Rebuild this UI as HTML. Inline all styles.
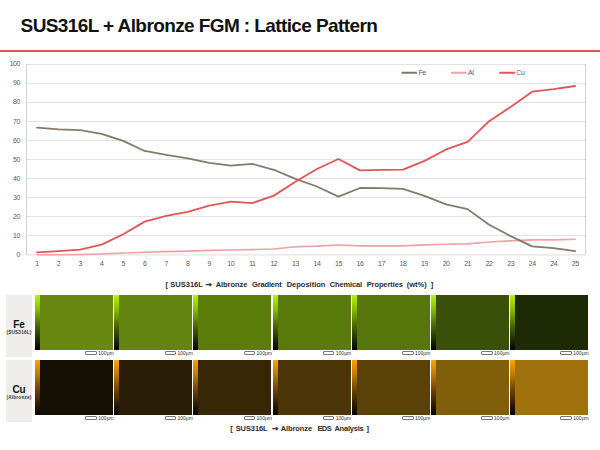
<!DOCTYPE html>
<html><head><meta charset="utf-8">
<style>
html,body{margin:0;padding:0;background:#fff;}
body{width:600px;height:450px;position:relative;overflow:hidden;font-family:"Liberation Sans",sans-serif;}
.title{position:absolute;left:20.6px;top:14.6px;font-size:19px;font-weight:bold;color:#111;white-space:nowrap;letter-spacing:-0.6px;}
.rule{position:absolute;left:0;top:50px;width:600px;height:2px;background:#df5558;}
.chart{position:absolute;left:0;top:0;}
.ax{font-family:"Liberation Sans",sans-serif;font-size:7px;fill:#595959;letter-spacing:-0.45px;}
.cap{position:absolute;font-size:7.5px;font-weight:bold;color:#2a2a2a;white-space:nowrap;width:600px;height:10px;}
.cap span{position:absolute;top:0;}
.arr{font-family:"DejaVu Sans",sans-serif;font-weight:bold;-webkit-text-stroke:0.35px #2a2a2a;}
.lbl{position:absolute;left:6px;width:26.3px;height:61.7px;background:#eeedeb;text-align:center;}
.lbl b{position:absolute;left:0;width:26px;top:25.2px;font-size:10px;color:#111;line-height:10px;letter-spacing:-0.2px;}
.lbl i{position:absolute;left:-2px;width:30px;top:36.3px;font-style:normal;font-weight:bold;font-size:4.6px;color:#333;line-height:4.6px;letter-spacing:0.25px;}
.bar{position:absolute;width:5px;height:55.3px;}
.img{position:absolute;width:73.2px;height:55.3px;}
.sb{position:absolute;font-size:5px;color:#2a2a2a;white-space:nowrap;line-height:5px;width:30px;height:6px;}
.sb .rect{position:absolute;left:0;top:-0.4px;width:9.6px;height:1.8px;border:0.7px solid #777;border-radius:1px;}
.sb .t{position:absolute;left:13px;top:-0.7px;}
</style></head><body>
<div class="title">SUS316L + Albronze FGM : Lattice Pattern</div>
<div class="rule"></div>
<svg class="chart" width="600" height="300" viewBox="0 0 600 300">
<line x1="26" y1="254.9" x2="586" y2="254.9" stroke="#dcdcdc" stroke-width="1"/>
<line x1="26" y1="235.5" x2="586" y2="235.5" stroke="#e3e3e3" stroke-width="1"/>
<line x1="26" y1="216.5" x2="586" y2="216.5" stroke="#e3e3e3" stroke-width="1"/>
<line x1="26" y1="197.5" x2="586" y2="197.5" stroke="#e3e3e3" stroke-width="1"/>
<line x1="26" y1="178.5" x2="586" y2="178.5" stroke="#e3e3e3" stroke-width="1"/>
<line x1="26" y1="159.5" x2="586" y2="159.5" stroke="#e3e3e3" stroke-width="1"/>
<line x1="26" y1="140.5" x2="586" y2="140.5" stroke="#e3e3e3" stroke-width="1"/>
<line x1="26" y1="121.5" x2="586" y2="121.5" stroke="#e3e3e3" stroke-width="1"/>
<line x1="26" y1="102.5" x2="586" y2="102.5" stroke="#e3e3e3" stroke-width="1"/>
<line x1="26" y1="83.5" x2="586" y2="83.5" stroke="#e3e3e3" stroke-width="1"/>
<line x1="26" y1="64.5" x2="586" y2="64.5" stroke="#e3e3e3" stroke-width="1"/>
<line x1="26.5" y1="64.5" x2="26.5" y2="254.5" stroke="#d0d0d0" stroke-width="1"/>
<line x1="585.5" y1="64.5" x2="585.5" y2="254.5" stroke="#d0d0d0" stroke-width="1"/>
<text x="20" y="257.2" text-anchor="end" class="ax">0</text>
<text x="20" y="238.1" text-anchor="end" class="ax">10</text>
<text x="20" y="219.0" text-anchor="end" class="ax">20</text>
<text x="20" y="199.9" text-anchor="end" class="ax">30</text>
<text x="20" y="180.8" text-anchor="end" class="ax">40</text>
<text x="20" y="161.7" text-anchor="end" class="ax">50</text>
<text x="20" y="142.6" text-anchor="end" class="ax">60</text>
<text x="20" y="123.5" text-anchor="end" class="ax">70</text>
<text x="20" y="104.4" text-anchor="end" class="ax">80</text>
<text x="20" y="85.3" text-anchor="end" class="ax">90</text>
<text x="20" y="66.2" text-anchor="end" class="ax">100</text>
<text x="37.06" y="266" text-anchor="middle" class="ax">1</text>
<text x="58.59" y="266" text-anchor="middle" class="ax">2</text>
<text x="80.12" y="266" text-anchor="middle" class="ax">3</text>
<text x="101.64" y="266" text-anchor="middle" class="ax">4</text>
<text x="123.17" y="266" text-anchor="middle" class="ax">5</text>
<text x="144.70" y="266" text-anchor="middle" class="ax">6</text>
<text x="166.23" y="266" text-anchor="middle" class="ax">7</text>
<text x="187.75" y="266" text-anchor="middle" class="ax">8</text>
<text x="209.28" y="266" text-anchor="middle" class="ax">9</text>
<text x="230.81" y="266" text-anchor="middle" class="ax">10</text>
<text x="252.33" y="266" text-anchor="middle" class="ax">11</text>
<text x="273.86" y="266" text-anchor="middle" class="ax">12</text>
<text x="295.39" y="266" text-anchor="middle" class="ax">13</text>
<text x="316.91" y="266" text-anchor="middle" class="ax">14</text>
<text x="338.44" y="266" text-anchor="middle" class="ax">15</text>
<text x="359.97" y="266" text-anchor="middle" class="ax">16</text>
<text x="381.49" y="266" text-anchor="middle" class="ax">17</text>
<text x="403.02" y="266" text-anchor="middle" class="ax">18</text>
<text x="424.55" y="266" text-anchor="middle" class="ax">19</text>
<text x="446.08" y="266" text-anchor="middle" class="ax">20</text>
<text x="467.60" y="266" text-anchor="middle" class="ax">21</text>
<text x="489.13" y="266" text-anchor="middle" class="ax">22</text>
<text x="510.66" y="266" text-anchor="middle" class="ax">23</text>
<text x="532.18" y="266" text-anchor="middle" class="ax">24</text>
<text x="553.71" y="266" text-anchor="middle" class="ax">24</text>
<text x="575.24" y="266" text-anchor="middle" class="ax">25</text>
<polyline points="37.06,254.71 58.59,254.71 80.12,254.52 101.64,253.95 123.17,253.00 144.70,252.24 166.23,251.67 187.75,251.10 209.28,250.34 230.81,249.96 252.33,249.58 273.86,249.01 295.39,246.73 316.91,246.16 338.44,245.02 359.97,245.88 381.49,245.88 403.02,245.88 424.55,244.83 446.08,244.26 467.60,243.88 489.13,241.98 510.66,240.84 532.18,239.89 553.71,239.89 575.24,239.32" fill="none" stroke="#f2a0a2" stroke-width="1.6" stroke-linejoin="round" stroke-linecap="round"/>
<polyline points="37.06,127.60 58.59,129.31 80.12,130.07 101.64,133.87 123.17,140.90 144.70,150.97 166.23,154.77 187.75,158.38 209.28,162.94 230.81,165.60 252.33,163.89 273.86,169.78 295.39,178.90 316.91,186.50 338.44,196.57 359.97,188.02 381.49,188.21 403.02,188.97 424.55,195.81 446.08,204.36 467.60,209.11 489.13,224.69 510.66,236.09 532.18,246.35 553.71,248.06 575.24,251.10" fill="none" stroke="#847a6c" stroke-width="1.8" stroke-linejoin="round" stroke-linecap="round"/>
<polyline points="37.06,252.43 58.59,251.10 80.12,249.58 101.64,244.64 123.17,234.19 144.70,221.65 166.23,215.95 187.75,211.96 209.28,205.69 230.81,201.70 252.33,203.03 273.86,195.62 295.39,181.75 316.91,169.02 338.44,158.95 359.97,170.35 381.49,169.97 403.02,169.59 424.55,160.85 446.08,149.45 467.60,141.85 489.13,121.14 510.66,106.89 532.18,91.69 553.71,89.22 575.24,85.99" fill="none" stroke="#e05558" stroke-width="1.8" stroke-linejoin="round" stroke-linecap="round"/>
<line x1="401.5" y1="72.75" x2="417.1" y2="72.75" stroke="#847a6c" stroke-width="2"/>
<text x="418.5" y="75.3" class="ax">Fe</text>
<line x1="451" y1="72.75" x2="466.6" y2="72.75" stroke="#f2a0a2" stroke-width="2"/>
<text x="468" y="75.3" class="ax">Al</text>
<line x1="499.3" y1="72.75" x2="514.9" y2="72.75" stroke="#e05558" stroke-width="2"/>
<text x="516.3" y="75.3" class="ax">Cu</text>
</svg>
<div class="cap" style="left:0;top:280.2px;"><span style="left:165.6px;">[</span> <span style="left:170.3px;">SUS316L</span> <span class="arr" style="left:205.6px;">→</span> <span style="left:215.7px;letter-spacing:-0.05px;">Albronze</span> <span style="left:252.1px;letter-spacing:-0.18px;">Gradient</span> <span style="left:286.7px;">Deposition</span> <span style="left:329.7px;letter-spacing:-0.12px;">Chemical</span> <span style="left:366.7px;letter-spacing:-0.1px;">Properties</span> <span style="left:406.7px;">(wt%)</span> <span style="left:430.7px;">]</span> </div>
<div class="lbl" style="top:295px"><b>Fe</b><i>(SUS316L)</i></div>
<div class="lbl" style="top:360px"><b>Cu</b><i>(Albronze)</i></div>
<div class="bar" style="left:35.0px;top:295px;background:linear-gradient(#b4f400,#8cc000 25%,#4a6a00 55%,#000)"></div>
<div class="img" style="left:40.0px;top:295px;background:#688812"></div>
<div class="sb" style="left:85.3px;top:351.7px"><span class="rect"></span><span class="t">100μm</span></div>
<div class="bar" style="left:114.2px;top:295px;background:linear-gradient(#b4f400,#8cc000 25%,#4a6a00 55%,#000)"></div>
<div class="img" style="left:119.2px;top:295px;background:#648410"></div>
<div class="sb" style="left:164.5px;top:351.7px"><span class="rect"></span><span class="t">100μm</span></div>
<div class="bar" style="left:193.3px;top:295px;background:linear-gradient(#b4f400,#8cc000 25%,#4a6a00 55%,#000)"></div>
<div class="img" style="left:198.3px;top:295px;background:#5c7c0a"></div>
<div class="sb" style="left:243.6px;top:351.7px"><span class="rect"></span><span class="t">100μm</span></div>
<div class="bar" style="left:272.5px;top:295px;background:linear-gradient(#b4f400,#8cc000 25%,#4a6a00 55%,#000)"></div>
<div class="img" style="left:277.5px;top:295px;background:#5a7a0c"></div>
<div class="sb" style="left:322.8px;top:351.7px"><span class="rect"></span><span class="t">100μm</span></div>
<div class="bar" style="left:351.7px;top:295px;background:linear-gradient(#b4f400,#8cc000 25%,#4a6a00 55%,#000)"></div>
<div class="img" style="left:356.7px;top:295px;background:#56760c"></div>
<div class="sb" style="left:402.0px;top:351.7px"><span class="rect"></span><span class="t">100μm</span></div>
<div class="bar" style="left:430.8px;top:295px;background:linear-gradient(#b4f400,#8cc000 25%,#4a6a00 55%,#000)"></div>
<div class="img" style="left:435.8px;top:295px;background:#3a500a"></div>
<div class="sb" style="left:481.1px;top:351.7px"><span class="rect"></span><span class="t">100μm</span></div>
<div class="bar" style="left:510.0px;top:295px;background:linear-gradient(#b4f400,#8cc000 25%,#4a6a00 55%,#000)"></div>
<div class="img" style="left:515.0px;top:295px;background:#1d2a05"></div>
<div class="sb" style="left:560.3px;top:351.7px"><span class="rect"></span><span class="t">100μm</span></div>
<div class="bar" style="left:35.0px;top:360px;background:linear-gradient(#ffa200,#c47c00 25%,#6a4200 55%,#000)"></div>
<div class="img" style="left:40.0px;top:360px;background:#161004"></div>
<div class="sb" style="left:85.3px;top:416.7px"><span class="rect"></span><span class="t">100μm</span></div>
<div class="bar" style="left:114.2px;top:360px;background:linear-gradient(#ffa200,#c47c00 25%,#6a4200 55%,#000)"></div>
<div class="img" style="left:119.2px;top:360px;background:#2a1d05"></div>
<div class="sb" style="left:164.5px;top:416.7px"><span class="rect"></span><span class="t">100μm</span></div>
<div class="bar" style="left:193.3px;top:360px;background:linear-gradient(#ffa200,#c47c00 25%,#6a4200 55%,#000)"></div>
<div class="img" style="left:198.3px;top:360px;background:#372707"></div>
<div class="sb" style="left:243.6px;top:416.7px"><span class="rect"></span><span class="t">100μm</span></div>
<div class="bar" style="left:272.5px;top:360px;background:linear-gradient(#ffa200,#c47c00 25%,#6a4200 55%,#000)"></div>
<div class="img" style="left:277.5px;top:360px;background:#4b3507"></div>
<div class="sb" style="left:322.8px;top:416.7px"><span class="rect"></span><span class="t">100μm</span></div>
<div class="bar" style="left:351.7px;top:360px;background:linear-gradient(#ffa200,#c47c00 25%,#6a4200 55%,#000)"></div>
<div class="img" style="left:356.7px;top:360px;background:#594107"></div>
<div class="sb" style="left:402.0px;top:416.7px"><span class="rect"></span><span class="t">100μm</span></div>
<div class="bar" style="left:430.8px;top:360px;background:linear-gradient(#ffa200,#c47c00 25%,#6a4200 55%,#000)"></div>
<div class="img" style="left:435.8px;top:360px;background:#805e0a"></div>
<div class="sb" style="left:481.1px;top:416.7px"><span class="rect"></span><span class="t">100μm</span></div>
<div class="bar" style="left:510.0px;top:360px;background:linear-gradient(#ffa200,#c47c00 25%,#6a4200 55%,#000)"></div>
<div class="img" style="left:515.0px;top:360px;background:#a0710c"></div>
<div class="sb" style="left:560.3px;top:416.7px"><span class="rect"></span><span class="t">100μm</span></div>
<div class="cap" style="left:0;top:424.4px;"><span style="left:230.2px;">[</span> <span style="left:235.7px;letter-spacing:-0.1px;">SUS316L</span> <span class="arr" style="left:271.9px;letter-spacing:-0.1px;">→</span> <span style="left:280.7px;letter-spacing:-0.1px;">Albronze</span> <span style="left:317.4px;letter-spacing:-0.55px;">EDS</span> <span style="left:334.4px;letter-spacing:-0.22px;">Analysis</span> <span style="left:366.4px;">]</span> </div>
</body></html>
